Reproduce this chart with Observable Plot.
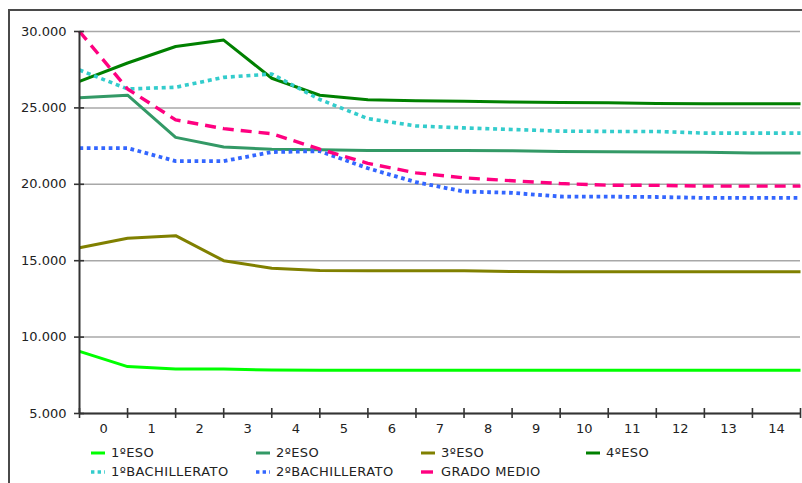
<!DOCTYPE html>
<html><head><meta charset="utf-8">
<script src="https://cdn.jsdelivr.net/npm/d3@7"></script>
<script src="https://cdn.jsdelivr.net/npm/@observablehq/plot@0.6"></script>
<style>
body{margin:0;background:#fff;font-family:"DejaVu Sans",Verdana,sans-serif;}
#wrap{position:relative;width:802px;height:483px;overflow:hidden;}
#frame{position:absolute;left:8px;top:9px;width:900px;height:600px;border-left:2px solid #4a4a4a;border-top:2px solid #4a4a4a;}
#chart{position:absolute;left:0;top:0;}
#legend{position:absolute;left:0;top:443px;width:802px;height:40px;}
.item{position:absolute;height:16px;line-height:16px;font-size:13px;letter-spacing:0.4px;color:#222;display:flex;align-items:center;white-space:nowrap;}
.item svg{margin-right:6px;}
</style></head><body>
<div id="wrap"><div id="frame"></div><div id="chart"></div><div id="legend"></div></div>
<script>
// categories (tick labels, one per band) and point positions (band edges)
const categories = ["0","1","2","3","4","5","6","7","8","9","10","11","12","13","14"];
const positions = [0,1,2,3,4,5,6,7,8,9,10,11,12,13,14,15];
const yTicks = [5000,10000,15000,20000,25000,30000];
const yTickLabels = ["5.000","10.000","15.000","20.000","25.000","30.000"];

const seriesNames = ["1ºESO","2ºESO","3ºESO","4ºESO","1ºBACHILLERATO","2ºBACHILLERATO","GRADO MEDIO"];
const eso1   = [9070,8070,7920,7910,7840,7830,7830,7830,7830,7830,7830,7830,7830,7830,7830,7830];
const eso2   = [25660,25830,23070,22440,22290,22260,22220,22220,22210,22200,22150,22130,22110,22100,22050,22050];
const eso3   = [15850,16470,16640,15000,14510,14360,14350,14350,14350,14290,14270,14270,14270,14270,14270,14270];
const eso4   = [26740,27940,29020,29440,26940,25830,25530,25460,25430,25380,25350,25340,25280,25270,25270,25270];
const bach1  = [27480,26240,26350,27000,27220,25550,24300,23820,23690,23590,23480,23460,23460,23350,23350,23350];
const bach2  = [22370,22370,21520,21520,22110,22170,21050,20140,19530,19440,19200,19190,19170,19110,19110,19110];
const gradoMedio = [30000,26240,24220,23640,23310,22300,21370,20750,20420,20230,20050,19940,19930,19880,19880,19880];
const seriesValues = [eso1, eso2, eso3, eso4, bach1, bach2, gradoMedio];

// styles
const seriesColors = ["#00ff00","#339966","#808000","#008000","#33cccc","#3366ff","#ff0080"];
const seriesWidths = [3,3,3,3,3.6,3.8,3.4];
const seriesDash = [null,null,null,null,"4,3.8","3.7,3.6","11,7"];

const rows = [];
seriesNames.forEach((name, s) => {
  seriesValues[s].forEach((v, i) => rows.push({series: name, x: positions[i], value: v}));
});

const lineMarks = seriesNames.map((name, s) =>
  Plot.line(rows.filter(r => r.series === name), {
    x: "x", y: "value",
    stroke: seriesColors[s], strokeWidth: seriesWidths[s],
    strokeDasharray: seriesDash[s] || undefined,
    strokeLinejoin: "round", strokeLinecap: "butt"
  })
);

const labelPos = categories.map((c, i) => i + 0.5);

const chart = Plot.plot({
  width: 802, height: 443,
  marginLeft: 79, marginRight: 2, marginTop: 31, marginBottom: 30,
  style: {fontFamily: "DejaVu Sans, Verdana, sans-serif", fontSize: "13px", background: "transparent", color: "#222"},
  x: {type: "linear", domain: [0, 15]},
  y: {domain: [5000, 30000]},
  marks: [
    Plot.ruleY(yTicks, {stroke: "#a8a8a8", strokeWidth: 1.5}),
    ...lineMarks,
    Plot.ruleX([0], {stroke: "#333", strokeWidth: 2}),
    Plot.ruleY([5000], {stroke: "#333", strokeWidth: 2}),
    Plot.axisY({ticks: yTicks, tickSize: 10, dx: 5, tickPadding: 8, tickFormat: d => yTickLabels[yTicks.indexOf(d)], stroke: "#333", strokeWidth: 1.6, fill: "#222", label: null, style: "letter-spacing:0.3px"}),
    Plot.axisX({ticks: positions, tickSize: 10, dy: -5, tickFormat: () => "", stroke: "#333", strokeWidth: 1.6, label: null}),
    Plot.axisX({ticks: labelPos, tickSize: 0, tickPadding: 10, tickFormat: d => categories[Math.round(d - 0.5)], fill: "#222", label: null})
  ]
});
document.getElementById("chart").appendChild(chart);

// legend
const legend = document.getElementById("legend");
const colX = [91, 256, 421, 586];
const rowY = [2, 21];
seriesNames.forEach((name, s) => {
  const div = document.createElement("div");
  div.className = "item";
  div.style.left = colX[s % 4] + "px";
  div.style.top = rowY[Math.floor(s / 4)] + "px";
  const dash = s === 6 ? null : (seriesDash[s] ? "3.4,3.2" : null);
  const len = s === 6 ? 12 : 14;
  div.innerHTML = `<svg width="${len}" height="10"><line x1="0" x2="${len}" y1="5" y2="5" stroke="${seriesColors[s]}" stroke-width="${seriesDash[s] ? 3.4 : 3}" ${dash ? `stroke-dasharray="${dash}"` : ""}/></svg><span>${name}</span>`;
  if (s === 6) div.querySelector("svg").style.marginRight = "8px";
  legend.appendChild(div);
});
</script>
</body></html>
